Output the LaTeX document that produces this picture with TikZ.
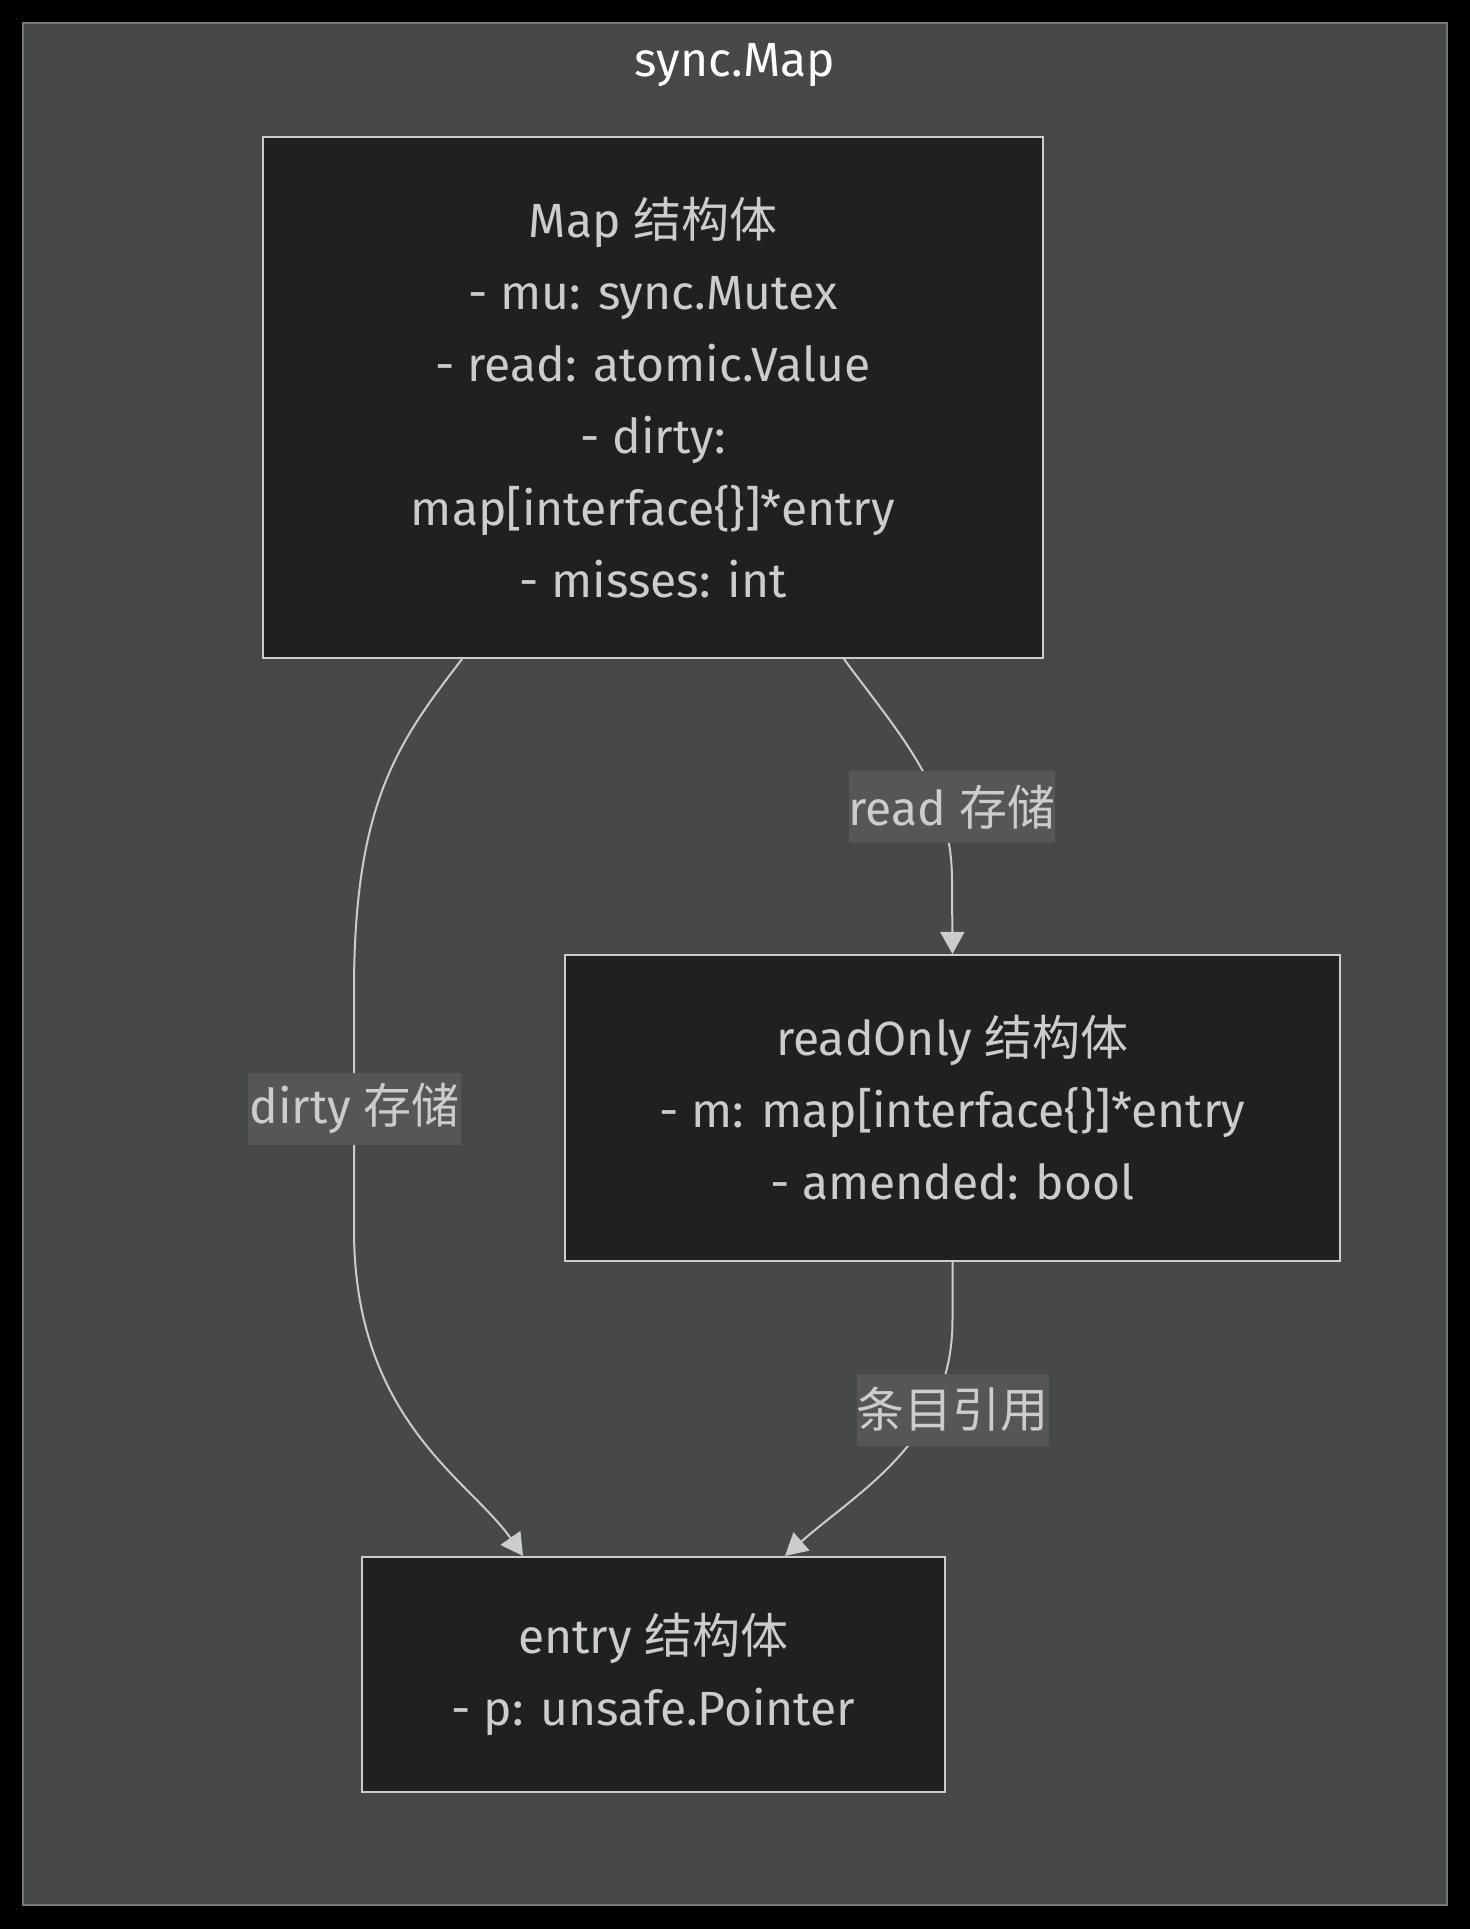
\documentclass[tikz,border=0pt]{standalone}
\usepackage{fontspec}
\setmainfont{Fira Sans}
\newfontfamily\cjk{Noto Sans CJK SC}
\usetikzlibrary{positioning, arrows.meta}
\definecolor{clusterbg}{RGB}{71,73,73}
\definecolor{clusterline}{RGB}{118,118,118}
\definecolor{boxbg}{RGB}{31,32,32}
\definecolor{fg}{RGB}{204,204,204}
\definecolor{lblbg}{RGB}{86,86,86}
\newcommand{\zh}[1]{{\cjk #1}}
\begin{document}
\begin{tikzpicture}[x=0.5pt, y=0.5pt,
    txt/.style={text=fg, font=\fontsize{24pt}{36pt}\selectfont},
    box/.style={txt, draw=fg, fill=boxbg, line width=1.1pt, align=center, inner sep=0pt},
    lbl/.style={txt, fill=lblbg, inner sep=0pt, minimum height=36pt},
    edge/.style={draw=fg, line width=1pt},
    arr/.style={edge, -{Triangle[length=11pt,width=12pt]}}]
            \fill [black] (0, 0) rectangle (1470, -1929);
            \draw [fill=clusterbg, draw=clusterline, line width=1pt] (23, -23) rectangle (1447, -1905);
            \node [txt, text=white, anchor=base] (title) at (735, -76) {sync.Map};

            \node [box, minimum width=390pt, minimum height=260.5pt] (Map) at (653, -397.5)
                {Map \zh{结构体}\\- mu: sync.Mutex\\- read: atomic.Value\\- dirty:\\map[interface\{\}]*entry\\- misses: int};
            \node [box, minimum width=387.5pt, minimum height=153pt] (readOnly) at (952.5, -1108)
                {readOnly \zh{结构体}\\- m: map[interface\{\}]*entry\\- amended: bool};
            \node [box, minimum width=291.5pt, minimum height=117.5pt] (entry) at (653.5, -1674.5)
                {entry \zh{结构体}\\- p: unsafe.Pointer};

            \draw [arr] ([xshift=95.5pt]Map.south) .. controls (900, -735) and (952, -790) .. (952, -880) -- (readOnly.north);
            \draw [arr] ([xshift=-95.5pt]Map.south) .. controls (400, -740) and (354, -800) .. (354, -990)
                -- (354, -1230) .. controls (354, -1420) and (470, -1480) .. ([xshift=-65.25pt]entry.north);
            \draw [arr] (readOnly.south) -- (952.5, -1320) .. controls (952.5, -1440) and (860, -1490) .. ([xshift=65.75pt]entry.north);

            \node [lbl, minimum width=103pt] (readlbl) at (952, -807) {read \zh{存储}};
            \node [lbl, minimum width=106.5pt] (dirtylbl) at (354.5, -1108.5) {dirty \zh{存储}};
            \node [lbl, minimum width=95.5pt] (reflbl) at (952.5, -1409.5) {\zh{条目引用}};
        \end{tikzpicture}
\end{document}
